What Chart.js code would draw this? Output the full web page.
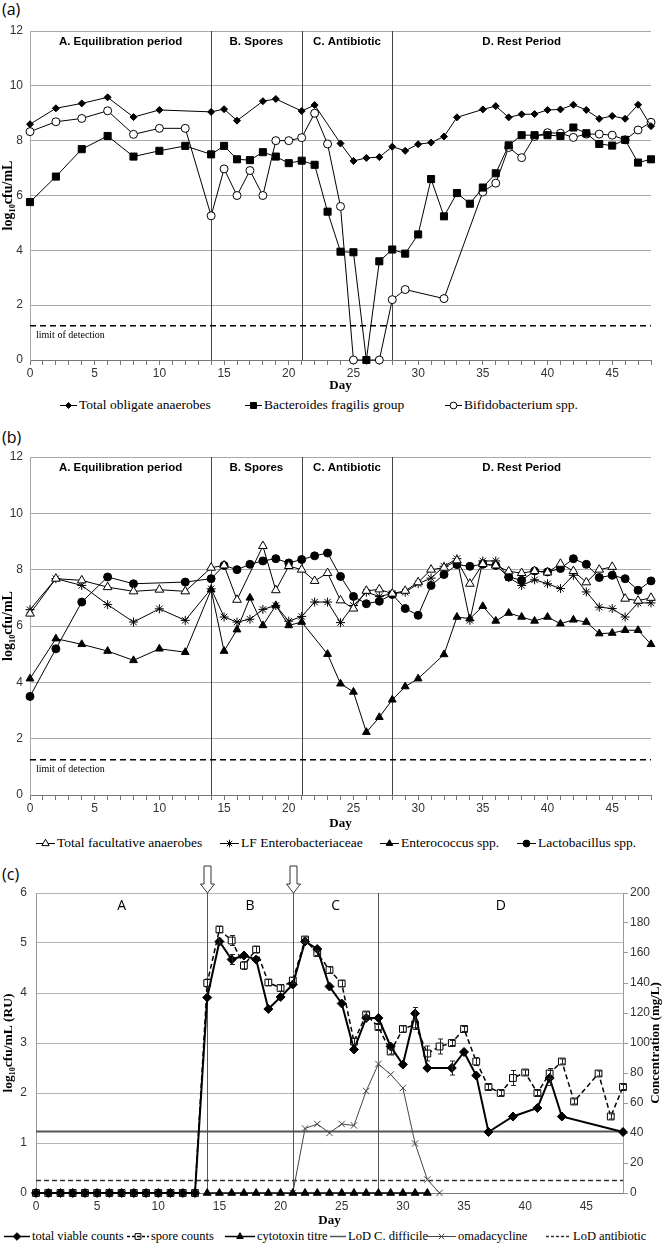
<!DOCTYPE html>
<html>
<head>
<meta charset="utf-8">
<title>Gut model counts</title>
<script src="https://cdn.jsdelivr.net/npm/chart.js@4.4.1/dist/chart.umd.min.js"></script>
<style>
  body { margin: 0; background: #fff; }
  #page { position: relative; width: 663px; height: 1245px; overflow: hidden; }
  canvas.plot { position: absolute; left: 0; }
  .tag { position: absolute; left: 2px; font: 16px "Open Sans", sans-serif; line-height: 18px; color: #000; }
  .legend { position: absolute; left: 0; width: 663px; height: 16px; font-family: "Liberation Serif", serif; color: #000; }
  .legend .item { position: absolute; top: 0; height: 16px; display: flex; align-items: center; white-space: nowrap; }
  .legend canvas { margin-right: 2px; }
</style>
</head>
<body>
<div id="page">
  <div class="tag" style="top:0">(a)</div>
  <canvas class="plot" id="chartA" width="663" height="393" style="top:0"></canvas>
  <div class="legend" id="legendA" style="top:397px;font-size:13.5px"></div>

  <div class="tag" style="top:428px">(b)</div>
  <canvas class="plot" id="chartB" width="663" height="406" style="top:425px"></canvas>
  <div class="legend" id="legendB" style="top:835px;font-size:13.5px"></div>

  <div class="tag" style="top:865px">(c)</div>
  <canvas class="plot" id="chartC" width="663" height="368" style="top:860px"></canvas>
  <div class="legend" id="legendC" style="top:1228px;font-size:12.5px"></div>
</div>

<script>
// ---------- panel (a): obligate anaerobes ----------
const namesA = ['Total obligate anaerobes', 'Bacteroides fragilis group', 'Bifidobacterium spp.'];
const daysObligate = [0, 2, 4, 6, 8, 10, 14, 15, 16, 18, 19, 21, 22, 24, 25, 26, 27, 28, 29, 30, 31, 32, 33,
  35, 36, 37, 38, 39, 40, 41, 42, 43, 44, 45, 46, 47, 48];
const obligate = [8.6, 9.18, 9.36, 9.58, 8.86, 9.12, 9.05, 9.15, 8.73, 9.44, 9.52, 9.08, 9.3, 7.9, 7.26, 7.37,
  7.4, 7.78, 7.63, 7.87, 7.93, 8.15, 8.85, 9.14, 9.26, 8.85, 8.96, 8.97, 9.12, 9.14, 9.31, 9.12, 8.8, 8.9, 8.8,
  9.31, 8.53];
const daysBacteroides = [0, 2, 4, 6, 8, 10, 12, 14, 15, 16, 17, 18, 19, 20, 21, 22, 23, 24, 25, 26, 27, 28, 29,
  30, 31, 32, 33, 34, 35, 36, 37, 38, 39, 40, 41, 42, 43, 44, 45, 46, 47, 48];
const bacteroides = [5.76, 6.69, 7.69, 8.17, 7.42, 7.63, 7.81, 7.5, 7.81, 7.32, 7.29, 7.58, 7.42, 7.18, 7.27,
  7.12, 5.41, 3.95, 3.93, 0, 3.6, 4.03, 3.88, 4.58, 6.6, 5.24, 6.09, 5.7, 6.29, 6.81, 7.83, 8.2, 8.2, 8.2, 8.17,
  8.48, 8.27, 7.88, 7.82, 8.03, 7.2, 7.32];
const daysBifido = [0, 2, 4, 6, 8, 10, 12, 14, 15, 16, 17, 18, 19, 20, 21, 22, 23, 24, 25, 27, 28, 29, 32, 35,
  36, 37, 38, 39, 40, 41, 42, 43, 44, 45, 46, 47, 48];
const bifido = [8.33, 8.69, 8.81, 9.09, 8.23, 8.45, 8.45, 5.26, 6.97, 6.0, 6.91, 6.0, 8.0, 8.0, 8.11, 9.0, 7.88,
  5.6, 0, 0, 2.2, 2.57, 2.24, 6.13, 6.45, 7.75, 7.38, 8.15, 8.29, 8.27, 8.12, 8.24, 8.24, 8.2, 8.03, 8.39, 8.67];

// ---------- panel (b): facultative anaerobes ----------
const namesB = ['Total facultative anaerobes', 'LF Enterobacteriaceae', 'Enterococcus spp.', 'Lactobacillus spp.'];
const daysFacultative = [0, 2, 4, 6, 8, 10, 12, 14, 15, 16, 18, 19, 20, 21, 22, 23, 24, 25, 26, 27, 28, 29, 30,
  31, 32, 33, 34, 35, 36, 37, 38, 39, 40, 41, 42, 43, 44, 45, 46, 47, 48];
const facultative = [6.44, 7.68, 7.62, 7.38, 7.23, 7.29, 7.23, 8.07, 8.15, 6.93, 8.84, 7.27, 8.13, 8.0, 7.6,
  7.88, 6.91, 6.62, 7.25, 7.3, 7.15, 7.25, 7.55, 8.0, 8.07, 8.33, 7.5, 8.2, 8.15, 7.94, 7.88, 7.95, 7.9, 8.21,
  7.95, 7.55, 8.0, 8.1, 6.97, 6.9, 7.0];
const daysEnterobact = [0, 2, 4, 6, 8, 10, 12, 14, 15, 16, 17, 18, 19, 20, 21, 22, 23, 24, 25, 26, 27, 28, 29,
  30, 31, 32, 33, 34, 35, 36, 37, 38, 39, 40, 41, 42, 43, 44, 45, 46, 47, 48];
const enterobact = [6.58, 7.68, 7.44, 6.76, 6.14, 6.61, 6.2, 7.32, 6.32, 6.14, 6.24, 6.59, 6.73, 6.17, 6.34,
  6.85, 6.85, 6.12, 6.73, 7.2, 7.05, 7.15, 7.2, 7.5, 7.7, 8.12, 8.39, 6.2, 8.31, 8.31, 7.72, 7.44, 7.64, 7.5,
  7.33, 7.8, 7.21, 6.67, 6.62, 6.32, 6.82, 6.82];
const daysEnterococcus = [0, 2, 4, 6, 8, 10, 12, 14, 15, 16, 17, 18, 19, 20, 21, 23, 24, 25, 26, 27, 28, 29, 30,
  32, 33, 34, 35, 36, 37, 38, 39, 40, 41, 42, 43, 44, 45, 46, 47, 48];
const enterococcus = [4.13, 5.55, 5.35, 5.11, 4.78, 5.19, 5.07, 7.29, 5.11, 5.87, 7.0, 6.02, 6.73, 6.02, 6.14,
  5.0, 3.95, 3.66, 2.23, 2.76, 3.38, 3.85, 4.13, 4.99, 6.32, 6.26, 6.7, 6.18, 6.46, 6.32, 6.18, 6.32, 6.08, 6.22,
  6.14, 5.73, 5.75, 5.85, 5.85, 5.35];
const daysLacto = [0, 2, 4, 6, 8, 12, 14, 15, 16, 17, 18, 19, 20, 21, 22, 23, 24, 25, 26, 27, 28, 29, 30, 31,
  32, 33, 34, 35, 36, 37, 38, 39, 40, 41, 42, 43, 44, 45, 46, 47, 48];
const lacto = [3.5, 5.19, 6.85, 7.74, 7.5, 7.56, 7.68, 8.15, 8.0, 8.19, 8.31, 8.39, 8.24, 8.36, 8.49, 8.59, 7.76,
  7.05, 6.79, 6.88, 7.12, 6.62, 6.38, 7.44, 7.83, 8.18, 8.12, 8.19, 8.15, 7.74, 7.62, 7.95, 7.92, 8.04, 8.39,
  8.19, 7.72, 7.8, 7.68, 7.27, 7.6];

// limit of detection (log10 cfu/mL), drawn across the whole run
const lodDays = [0, 48];
const lodCounts = [1.25, 1.25];

// ---------- panel (c): C. difficile and antibiotic ----------
const namesC = ['total viable counts', 'spore counts', 'cytotoxin titre', 'LoD C. difficile', 'omadacycline', 'LoD antibiotic'];
const daysTvc = [0, 1, 2, 3, 4, 5, 6, 7, 8, 9, 10, 11, 12, 13, 14, 15, 16, 17, 18, 19, 20, 21, 22, 23, 24, 25,
  26, 27, 28, 29, 30, 31, 32, 34, 35, 36, 37, 39, 41, 42, 43, 48];
const tvc = [0, 0, 0, 0, 0, 0, 0, 0, 0, 0, 0, 0, 0, 0, 3.91, 5.03, 4.67, 4.75, 4.67, 3.68, 3.92, 4.17, 5.03, 4.88,
  4.13, 3.79, 2.87, 3.5, 3.5, 2.93, 2.57, 3.59, 2.5, 2.5, 2.82, 2.35, 1.22, 1.53, 1.7, 2.3, 1.53, 1.22];
const tvcErr = [0, 0, 0, 0, 0, 0, 0, 0, 0, 0, 0, 0, 0, 0, 0, 0.05, 0.1, 0, 0, 0, 0, 0, 0.04, 0, 0, 0, 0, 0.05, 0,
  0, 0, 0.12, 0, 0.14, 0, 0, 0, 0, 0, 0.15, 0, 0];
const daysSpore = [0, 1, 2, 3, 4, 5, 6, 7, 8, 9, 10, 11, 12, 13, 14, 15, 16, 17, 18, 19, 20, 21, 22, 23, 24, 25,
  26, 27, 28, 29, 30, 31, 32, 33, 34, 35, 36, 37, 38, 39, 40, 41, 42, 43, 44, 46, 47, 48];
const spore = [0, 0, 0, 0, 0, 0, 0, 0, 0, 0, 0, 0, 0, 0, 4.2, 5.27, 5.05, 4.55, 4.87, 4.21, 4.1, 4.25, 5.07, 4.8,
  4.46, 4.19, 3.03, 3.57, 3.32, 2.83, 3.28, 3.37, 2.79, 2.93, 3.0, 3.28, 2.63, 2.12, 2.0, 2.3, 2.41, 2.0, 2.39,
  2.63, 1.83, 2.39, 1.53, 2.12];
const sporeErr = [0, 0, 0, 0, 0, 0, 0, 0, 0, 0, 0, 0, 0, 0, 0.08, 0.06, 0.1, 0.08, 0.06, 0.06, 0.06, 0.06, 0.05,
  0.05, 0.06, 0.06, 0.06, 0.05, 0.05, 0.05, 0.06, 0.1, 0.15, 0.15, 0.05, 0.05, 0.08, 0.05, 0.05, 0.15, 0.05, 0.05,
  0.1, 0.05, 0.05, 0.05, 0.05, 0.05];
const daysCyto = [14, 15, 16, 17, 18, 19, 20, 21, 22, 23, 24, 25, 26, 27, 28, 29, 30, 31, 32];
const cytotoxin = [0, 0, 0, 0, 0, 0, 0, 0, 0, 0, 0, 0, 0, 0, 0, 0, 0, 0, 0];
const lodCdiff = [1.23, 1.23];
const daysOmada = [21, 22, 23, 24, 25, 26, 27, 28, 29, 30, 31, 32, 33];
const omadacycline = [0, 43, 46, 40, 46, 45, 68, 86, 79, 70, 33, 9, 0];   // mg/L, right axis
const lodAntibiotic = [8.3, 8.3];                                       // mg/L

// experiment periods (day boundaries) and their headings
const periodBounds = [14, 21, 28];
const periodTitlesAB = ['A. Equilibration period', 'B. Spores', 'C. Antibiotic', 'D. Rest Period'];
const periodTitlesC = ['A', 'B', 'C', 'D'];
const instillDays = [14, 21];   // arrows in panel (c)

const SANS = '"Liberation Sans", Arial, sans-serif';
const SERIF = '"Liberation Serif", "Times New Roman", serif';
Chart.defaults.font.family = SANS;
Chart.defaults.color = '#333';

const pts = (days, vals) => days.map((d, i) => ({ x: d, y: vals[i] }));

function series(label, days, vals, extra) {
  return Object.assign({
    label: label,
    data: pts(days, vals),
    borderColor: '#000',
    borderWidth: 1,
    pointBorderColor: '#000',
    pointBorderWidth: 1,
    pointBackgroundColor: '#000',
    tension: 0,
    clip: false
  }, extra);
}

/**
 * Vertical period lines with their headings
 */
const periodPlugin = {
  id: 'periods',
  beforeDatasetsDraw(chart, args, opts) {
    const { ctx, chartArea: a } = chart;
    const x = chart.scales.x;
    ctx.save();
    ctx.strokeStyle = opts.lineColor;
    ctx.lineWidth = 1;
    periodBounds.forEach(d => {
      const px = Math.round(x.getPixelForValue(d)) + 0.5;
      ctx.beginPath();
      ctx.moveTo(px, a.top);
      ctx.lineTo(px, a.bottom);
      ctx.stroke();
    });
    const edges = [x.min, ...periodBounds, x.max];
    ctx.fillStyle = '#000';
    ctx.font = opts.font;
    ctx.textAlign = 'center';
    ctx.textBaseline = 'middle';
    opts.titles.forEach((t, i) => {
      const cx = x.getPixelForValue((edges[i] + edges[i + 1]) / 2);
      ctx.fillText(t, cx, a.top + opts.offsetY);
    });
    ctx.restore();
  }
};

/**
 * Small caption under the limit of detection line
 */
const lodLabelPlugin = {
  id: 'lodLabel',
  afterDatasetsDraw(chart, args, opts) {
    if (!opts.text) return;
    const { ctx, chartArea: a } = chart;
    const py = chart.scales.y.getPixelForValue(opts.value);
    ctx.save();
    ctx.fillStyle = '#000';
    ctx.font = '10px ' + SERIF;
    ctx.textBaseline = 'middle';
    ctx.fillText(opts.text, a.left + 6, py + 10);
    ctx.restore();
  }
};

/**
 * Error bars for datasets carrying an errorBars array
 */
const errorBarPlugin = {
  id: 'errorBars',
  afterDatasetsDraw(chart) {
    const ctx = chart.ctx;
    chart.data.datasets.forEach((ds, i) => {
      if (!ds.errorBars) return;
      const meta = chart.getDatasetMeta(i);
      const yScale = chart.scales[meta.yAxisID];
      ctx.save();
      ctx.strokeStyle = '#222';
      ctx.lineWidth = 1;
      ds.data.forEach((p, j) => {
        const e = ds.errorBars[j];
        if (!e) return;
        const px = Math.round(meta.data[j].x) + 0.5;
        const top = yScale.getPixelForValue(p.y + e);
        const bot = yScale.getPixelForValue(p.y - e);
        ctx.beginPath();
        ctx.moveTo(px, top); ctx.lineTo(px, bot);
        ctx.moveTo(px - 2.5, top); ctx.lineTo(px + 2.5, top);
        ctx.moveTo(px - 2.5, bot); ctx.lineTo(px + 2.5, bot);
        ctx.stroke();
      });
      ctx.restore();
    });
  }
};

/**
 * Hollow arrows marking the instillation days, and the right axis title
 */
const arrowPlugin = {
  id: 'arrows',
  afterDraw(chart, args, opts) {
    const { ctx, chartArea: a } = chart;
    const x = chart.scales.x;
    ctx.save();
    ctx.strokeStyle = '#333';
    ctx.fillStyle = '#fff';
    ctx.lineWidth = 1;
    instillDays.forEach(d => {
      const cx = Math.round(x.getPixelForValue(d)) + 0.5;
      const y0 = a.top - 27, neck = a.top - 9;
      ctx.beginPath();
      ctx.moveTo(cx - 3.5, y0);
      ctx.lineTo(cx + 3.5, y0);
      ctx.lineTo(cx + 3.5, neck);
      ctx.lineTo(cx + 7, neck);
      ctx.lineTo(cx, a.top);
      ctx.lineTo(cx - 7, neck);
      ctx.lineTo(cx - 3.5, neck);
      ctx.closePath();
      ctx.fill();
      ctx.stroke();
    });
    // right axis title reads bottom to top
    ctx.fillStyle = '#000';
    ctx.font = 'bold 13px ' + SERIF;
    ctx.textAlign = 'center';
    ctx.textBaseline = 'middle';
    ctx.translate(opts.titleX, (a.top + a.bottom) / 2);
    ctx.rotate(-Math.PI / 2);
    ctx.fillText(opts.title, 0, 0);
    ctx.restore();
  }
};

function dayAxis(height, everyDay) {
  return {
    type: 'linear',
    min: 0,
    max: 48,
    ticks: {
      stepSize: everyDay ? 1 : 5,
      autoSkip: false,
      maxRotation: 0,
      padding: everyDay ? 1 : 6,
      font: { size: 12 },
      callback: v => (v % 5 === 0 && v < 48) ? v : ''
    },
    grid: { drawOnChartArea: false, drawTicks: everyDay, tickLength: 5, color: '#777' },
    border: { color: '#777' },
    title: { display: true, text: 'Day', color: '#000', padding: 0, font: { family: SERIF, size: 13, weight: 'bold' } },
    afterFit: s => { s.height = height; }
  };
}

function logPanel(canvasId, datasets, xHeight, padTop) {
  return new Chart(document.getElementById(canvasId), {
    type: 'line',
    data: { datasets },
    options: {
      responsive: false,
      animation: false,
      events: [],
      layout: { padding: { top: padTop, right: 12, left: 0, bottom: 0 } },
      plugins: {
        legend: { display: false },
        tooltip: { enabled: false },
        periods: { titles: periodTitlesAB, font: 'bold 11.5px ' + SANS, offsetY: 11, lineColor: '#444' },
        lodLabel: { value: lodCounts[0], text: 'limit of detection' }
      },
      scales: {
        x: dayAxis(xHeight, true),
        y: {
          min: 0,
          max: 12,
          ticks: { stepSize: 2, padding: 7, font: { size: 12 } },
          grid: { color: '#a8a8a8', drawTicks: false },
          border: { color: '#a8a8a8' },
          title: { display: true, text: 'log₁₀cfu/mL', color: '#000', padding: 0, font: { family: SERIF, size: 14, weight: 'bold' } },
          afterFit: s => { s.width = 30; }
        }
      }
    },
    plugins: [periodPlugin, lodLabelPlugin]
  });
}

const lodStyle = { borderWidth: 1.5, borderDash: [6, 4], pointRadius: 0, legend: false };

const chartA = logPanel('chartA', [
  series(namesA[0], daysObligate, obligate, { pointStyle: 'rectRot', pointRadius: 3.5 }),
  series(namesA[1], daysBacteroides, bacteroides, { pointStyle: 'rect', pointRadius: 5 }),
  series(namesA[2], daysBifido, bifido, { pointStyle: 'circle', pointRadius: 4, pointBackgroundColor: '#fff' }),
  series('limit of detection', lodDays, lodCounts, lodStyle)
], 33, 31);

const chartB = logPanel('chartB', [
  series(namesB[0], daysFacultative, facultative, { pointStyle: 'triangle', pointRadius: 5, pointBackgroundColor: '#fff' }),
  series(namesB[1], daysEnterobact, enterobact, { pointStyle: 'star', pointRadius: 4.5 }),
  series(namesB[2], daysEnterococcus, enterococcus, { pointStyle: 'triangle', pointRadius: 4.5 }),
  series(namesB[3], daysLacto, lacto, { pointStyle: 'circle', pointRadius: 4 }),
  series('limit of detection', lodDays, lodCounts, lodStyle)
], 36, 32);

const chartC = new Chart(document.getElementById('chartC'), {
  type: 'line',
  data: {
    datasets: [
      series(namesC[0], daysTvc, tvc, { pointStyle: 'rectRot', pointRadius: 4.5, borderWidth: 2, errorBars: tvcErr }),
      series(namesC[1], daysSpore, spore, { pointStyle: 'rect', pointRadius: 4.8, borderWidth: 1.5, borderDash: [5, 3], pointBackgroundColor: '#fff', errorBars: sporeErr }),
      series(namesC[2], daysCyto, cytotoxin, { pointStyle: 'triangle', pointRadius: 4.5, borderWidth: 1.5 }),
      series(namesC[3], lodDays, lodCdiff, { borderColor: '#555', borderWidth: 2, pointRadius: 0 }),
      series(namesC[4], daysOmada, omadacycline, { yAxisID: 'y2', pointStyle: 'crossRot', pointRadius: 4.5, borderColor: '#444', pointBorderColor: '#444', pointBackgroundColor: '#444' }),
      series(namesC[5], lodDays, lodAntibiotic, { yAxisID: 'y2', borderColor: '#333', borderWidth: 1.5, borderDash: [5, 3], pointRadius: 0 })
    ]
  },
  options: {
    responsive: false,
    animation: false,
    events: [],
    layout: { padding: { top: 33, right: 0, left: 0, bottom: 0 } },
    plugins: {
      legend: { display: false },
      tooltip: { enabled: false },
      periods: { titles: periodTitlesC, font: '14px "Open Sans", sans-serif', offsetY: 13, lineColor: '#555' },
      arrows: { title: 'Concentration (mg/L)', titleX: 656 }
    },
    scales: {
      x: dayAxis(35, false),
      y: {
        min: 0,
        max: 6,
        ticks: { stepSize: 1, padding: 9, font: { size: 12 } },
        grid: { color: '#b5b5b5', drawTicks: false },
        border: { color: '#999' },
        title: { display: true, text: 'log₁₀cfu/mL (RU)', color: '#000', padding: 0, font: { family: SERIF, size: 13.5, weight: 'bold' } },
        afterFit: s => { s.width = 36; }
      },
      y2: {
        position: 'right',
        min: 0,
        max: 200,
        ticks: { stepSize: 20, padding: 2, font: { size: 12 } },
        grid: { drawOnChartArea: false, tickLength: 5, color: '#999' },
        border: { color: '#999' },
        afterFit: s => { s.width = 40; }
      }
    }
  },
  plugins: [periodPlugin, errorBarPlugin, arrowPlugin]
});

/**
 * HTML legends: line + marker icon followed by the series name
 */
function drawMarker(ctx, style, x, y, r, fill, stroke) {
  ctx.beginPath();
  if (style === 'rectRot') {
    ctx.moveTo(x, y - r); ctx.lineTo(x + r, y); ctx.lineTo(x, y + r); ctx.lineTo(x - r, y); ctx.closePath();
  } else if (style === 'rect') {
    const s = r * Math.SQRT1_2;
    ctx.rect(x - s, y - s, 2 * s, 2 * s);
  } else if (style === 'circle') {
    ctx.arc(x, y, r, 0, Math.PI * 2);
  } else if (style === 'triangle') {
    ctx.moveTo(x, y - r); ctx.lineTo(x + r * 0.866, y + r / 2); ctx.lineTo(x - r * 0.866, y + r / 2); ctx.closePath();
  } else if (style === 'star' || style === 'crossRot') {
    const d = r * Math.SQRT1_2;
    ctx.moveTo(x - d, y - d); ctx.lineTo(x + d, y + d);
    ctx.moveTo(x - d, y + d); ctx.lineTo(x + d, y - d);
    if (style === 'star') { ctx.moveTo(x, y - r); ctx.lineTo(x, y + r); }
    ctx.strokeStyle = stroke; ctx.stroke();
    return;
  }
  if (fill) { ctx.fillStyle = fill; ctx.fill(); }
  ctx.strokeStyle = stroke; ctx.stroke();
}

function buildLegend(elId, chart, lefts, widths) {
  const holder = document.getElementById(elId);
  chart.data.datasets.filter(ds => ds.legend !== false).forEach((ds, i) => {
    const item = document.createElement('div');
    item.className = 'item';
    item.style.left = lefts[i] + 'px';
    const w = widths[i];
    const icon = document.createElement('canvas');
    icon.width = w; icon.height = 12;
    const ctx = icon.getContext('2d');
    ctx.strokeStyle = ds.borderColor;
    ctx.lineWidth = Math.min(ds.borderWidth, 1.5);
    ctx.setLineDash(ds.borderDash ? [3, 2] : []);
    ctx.beginPath(); ctx.moveTo(0, 6.5); ctx.lineTo(w, 6.5); ctx.stroke();
    ctx.setLineDash([]);
    ctx.lineWidth = 1;
    if (ds.pointRadius) {
      const fill = ds.pointStyle === 'rect' && ds.errorBars ? null : ds.pointBackgroundColor;
      drawMarker(ctx, ds.pointStyle, w / 2, 6.5, ds.pointRadius * 0.85, fill, ds.pointBorderColor);
    }
    const text = document.createElement('span');
    text.textContent = ds.label;
    item.appendChild(icon);
    item.appendChild(text);
    holder.appendChild(item);
  });
}

buildLegend('legendA', chartA, [60, 245, 445], [17, 17, 17]);
buildLegend('legendB', chartB, [36, 220, 380, 517], [19, 19, 19, 19]);
buildLegend('legendC', chartC, [4, 127, 225, 330, 427, 546], [26, 22, 30, 16, 29, 25]);
</script>
</body>
</html>
